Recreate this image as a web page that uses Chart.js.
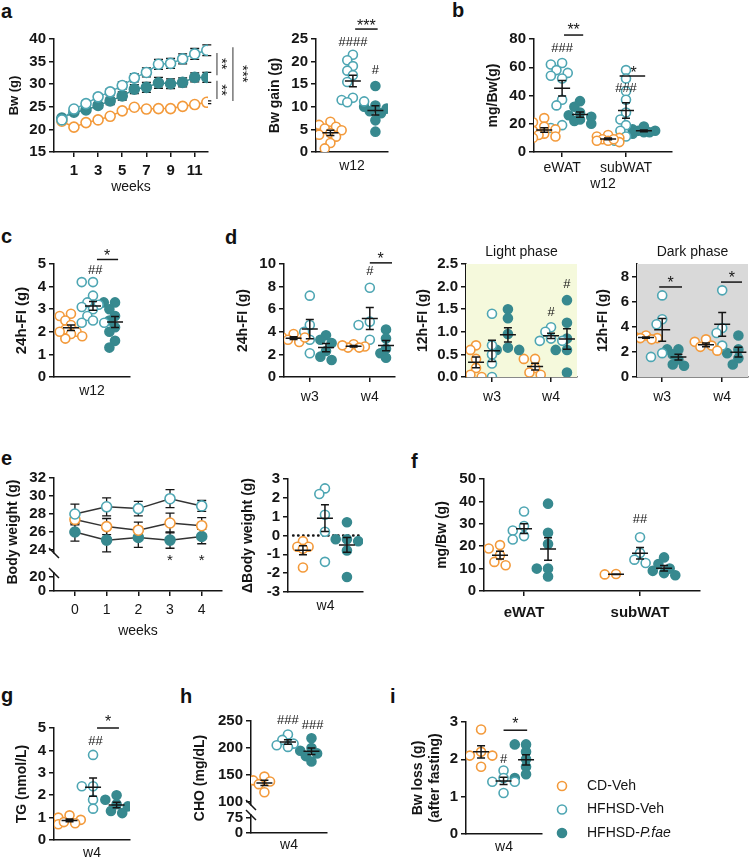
<!DOCTYPE html>
<html>
<head>
<meta charset="utf-8">
<script src="https://cdn.jsdelivr.net/npm/chart.js@4.4.1/dist/chart.umd.min.js"></script>
<style>
  body { margin: 0; width: 750px; height: 860px; position: relative; overflow: hidden; background: #fff;
         font-family: "Liberation Sans", Arial, sans-serif; }
  canvas { position: absolute; }
  .tag { position: absolute; font-weight: bold; font-size: 20px; line-height: 1; color: #111; }
</style>
</head>
<body>
<div class="tag" style="left:1px;top:1px">a</div>
<div class="tag" style="left:452px;top:0px">b</div>
<div class="tag" style="left:1px;top:226px">c</div>
<div class="tag" style="left:225px;top:227px">d</div>
<div class="tag" style="left:1px;top:448px">e</div>
<div class="tag" style="left:411px;top:451px">f</div>
<div class="tag" style="left:1px;top:685px">g</div>
<div class="tag" style="left:180px;top:686px">h</div>
<div class="tag" style="left:390px;top:686px">i</div>
<script>
// ---- data ----
const legendLabels = ["CD-Veh", "HFHSD-Veh", "HFHSD-P.fae"];

// a: body weight over 12 weeks (mean, SEM)
const weeksA = [0, 1, 2, 3, 4, 5, 6, 7, 8, 9, 10, 11, 12];
const bwCD = [21.8, 20.5, 21.5, 22.1, 22.9, 24.1, 24.9, 24.5, 24.6, 24.6, 25.1, 25.5, 26.0];
const bwCDErr = [0.3, 0.3, 0.3, 0.3, 0.3, 0.3, 0.3, 0.3, 0.3, 0.3, 0.3, 0.3, 0.3];
const bwVeh = [22.1, 24.5, 25.7, 27.2, 28.3, 29.7, 31.4, 32.6, 34.4, 34.6, 35.6, 36.7, 37.5];
const bwVehErr = [0.4, 0.5, 0.6, 0.6, 0.7, 0.8, 0.9, 1.0, 1.1, 1.1, 1.1, 1.2, 1.2];
const bwPfae = [22.5, 23.8, 24.3, 25.3, 26.3, 27.4, 28.9, 29.3, 30.3, 30.1, 30.4, 31.5, 31.5];
const bwPfaeErr = [0.4, 0.5, 0.5, 0.6, 0.8, 0.9, 1.0, 1.1, 1.2, 1.1, 1.0, 1.0, 1.1];
const ticksA = [1, 3, 5, 7, 9, 11];

// a: body weight gain at w12
const gainCD = [6.7, 6.0, 5.6, 5.2, 4.8, 4.2, 3.8, 3.4, 2.0, 0.8];
const gainVeh = [21.5, 20.3, 19.0, 18.0, 17.0, 15.5, 12.0, 11.5, 11.0, 11.2];
const gainPfae = [14.6, 10.3, 10.0, 9.6, 9.0, 8.6, 7.0, 4.5];

// b: fat pads at w12
const fatCatsB = ["eWAT", "subWAT"];
const eWatCD = [24, 21, 18, 16, 15, 13, 12, 11, 10];
const eWatVeh = [63, 62, 58, 56, 54, 52, 37, 33, 19, 17];
const eWatPfae = [36, 32, 28, 26, 25, 23, 22, 20];
const subWatCD = [12, 11, 10, 9, 8, 8, 7, 9];
const subWatVeh = [58, 52, 43, 37, 28, 23, 19, 15, 11, 8];
const subWatPfae = [18, 16, 15, 15, 14, 14, 13];

// c: 24h food intake at w12
const fiCD = [2.8, 2.7, 2.5, 2.3, 2.1, 2.0, 1.9, 1.7, 1.8, 2.0];
const fiVeh = [4.2, 4.2, 3.6, 3.3, 3.2, 3.1, 3.0, 2.7, 2.4, 2.4, 2.5];
const fiPfae = [3.3, 3.3, 3.0, 2.7, 2.5, 2.2, 2.0, 1.6, 1.3];

// d: food intake, w3 / w4
const weekCatsD = ["w3", "w4"];
const fi24W3CD = [3.8, 3.5, 3.3, 3.1, 3.5];
const fi24W3Veh = [7.2, 4.6, 4.0, 3.3, 2.1];
const fi24W3Pfae = [3.7, 3.3, 3.0, 2.3, 1.8, 1.5];
const fi24W4CD = [2.9, 2.7, 2.6, 2.6, 2.8];
const fi24W4Veh = [7.9, 4.9, 4.6, 3.3];
const fi24W4Pfae = [4.2, 3.4, 2.5, 2.1, 1.7];
const lightW3CD = [0.7, 0.6, 0.4, 0.2, 0.0, 0.05];
const lightW3Veh = [1.4, 0.7, 0.5, 0.3, 0.0];
const lightW3Pfae = [1.5, 1.3, 0.95, 0.65, 0.6, 0.6];
const lightW4CD = [0.4, 0.4, 0.2, 0.1, 0.05];
const lightW4Veh = [1.1, 1.0, 0.85, 0.8, 0.8];
const lightW4Pfae = [1.7, 1.2, 0.85, 0.6, 0.6, 0.1];
const darkW3CD = [3.3, 3.2, 3.1, 3.0, 3.1];
const darkW3Veh = [6.5, 4.6, 4.2, 1.9, 1.6];
const darkW3Pfae = [2.2, 2.2, 1.8, 1.4, 1.0, 0.9];
const darkW4CD = [3.0, 2.8, 2.5, 2.1, 2.4];
const darkW4Veh = [6.9, 3.9, 3.5, 2.5];
const darkW4Pfae = [3.3, 2.2, 1.9, 1.5, 1.0];

// e: body weight over 4 weeks (mean, SEM) and change at w4
const weeksE = [0, 1, 2, 3, 4];
const bodyCD = [27.4, 26.6, 26.2, 27.0, 26.7];
const bodyCDErr = [0.6, 0.9, 0.9, 1.1, 0.9];
const bodyVeh = [28.0, 28.8, 28.6, 29.7, 28.9];
const bodyVehErr = [1.1, 1.0, 0.8, 1.0, 0.6];
const bodyPfae = [26.0, 25.1, 25.4, 25.1, 25.5];
const bodyPfaeErr = [1.0, 1.3, 1.1, 0.9, 0.8];
const dBodyCD = [-0.3, -0.6, -0.6, -0.7, -1.7];
const dBodyVeh = [2.5, 2.2, 1.1, 0.2, -1.4];
const dBodyPfae = [0.7, -0.2, -0.2, -0.3, -0.8, -2.2];

// f: fat pads at w4
const fatW4eCD = [20.5, 19, 16, 13, 11.5];
const fatW4eVeh = [35.5, 29, 27, 24.5, 23];
const fatW4ePfae = [39, 26, 21, 10, 10, 6.5];
const fatW4sCD = [7.6, 7.4];
const fatW4sVeh = [24, 17, 14, 12.5];
const fatW4sPfae = [15, 12, 10, 9, 8, 7];

// g, h, i: serum and fasting at w4
const tgCD = [1.1, 1.0, 0.9, 0.75, 0.7, 0.8];
const tgVeh = [3.8, 2.4, 2.4, 1.8, 1.4];
const tgPfae = [2.0, 1.8, 1.6, 1.5, 1.3, 1.2];
const choCD = [147, 140, 138, 133, 118];
const choVeh = [225, 215, 208, 205, 202];
const choPfae = [218, 200, 195, 190, 185, 175];
const lossCD = [2.8, 2.2, 2.1, 2.1, 1.8];
const lossVeh = [1.7, 1.5, 1.4, 1.4, 1.1];
const lossPfae = [2.4, 2.4, 2.2, 2.0, 1.8, 1.6, 1.5];

// ---- styles ----
const ORANGE = "#f39a3b", TEAL = "#4ea6b3", DTEAL = "#37898f", INK = "#151515";
const FONT = '"Liberation Sans", Arial, sans-serif';
const R = 4.5;
Chart.defaults.font.family = FONT;
Chart.defaults.color = INK;

function dotStyle(si) {
  const fill = si === 2 ? DTEAL : "#fff";
  const edge = [ORANGE, TEAL, DTEAL][si];
  return { pointRadius: R, pointBorderWidth: 1.6, pointBackgroundColor: fill, pointBorderColor: edge };
}

// spread overlapping dots sideways (compact beeswarm, overlap allowed)
function swarm(vals, pxX, pxY) {
  const order = vals.map((v, i) => i).sort((a, b) => vals[b] - vals[a]);
  const placed = [], off = vals.map(() => 0), step = R * 1.25, need = R * 1.6;
  const slots = [0, -1, 1, -2, 2];
  order.forEach(i => {
    const yp = vals[i] * pxY;
    let best = 0, bestD = -1;
    for (const k of slots) {
      const dx = k * step;
      const d = placed.reduce((m, p) => Math.min(m, Math.hypot(p.x - dx, p.y - yp)), Infinity);
      if (d >= need) { best = dx; break; }
      if (d > bestD) { bestD = d; best = dx; }
    }
    placed.push({ x: best, y: yp });
    off[i] = best / pxX;
  });
  return off;
}

function mkCanvas(left, top, w, h) {
  const cv = document.createElement("canvas");
  cv.width = Math.round(w); cv.height = Math.round(h);
  cv.style.left = Math.round(left) + "px"; cv.style.top = Math.round(top) + "px";
  document.body.appendChild(cv);
  return cv;
}

function yScale(o) {
  const s = {
    type: "linear", position: "left", min: o.min, max: o.max,
    afterBuildTicks: sc => { sc.ticks = o.ticks.map(v => ({ value: v })); },
    ticks: { font: { size: 15, weight: "bold" }, color: INK, padding: 3, autoSkip: false,
             callback: v => o.dec ? v.toFixed(o.dec) : String(v) },
    grid: { display: true, drawOnChartArea: false, drawTicks: true, tickLength: 5, color: INK, lineWidth: 1.5 },
    border: { display: true, color: INK, width: 1.5 },
    title: o.title ? { display: true, text: o.title, font: { size: o.tsize || 14, weight: "bold" }, color: INK, padding: 0 }
                   : { display: false },
    afterFit: sc => { sc.width = o.width; }
  };
  return Object.assign(s, o.extra || {});
}

function xScale(o) {
  return {
    type: "linear", position: "bottom", min: o.min, max: o.max,
    afterBuildTicks: sc => { sc.ticks = (o.ticks || []).map(v => ({ value: v })); },
    ticks: { display: !!o.labels, font: o.tfont || { size: 14 }, color: INK, padding: o.tpad || 3,
             maxRotation: 0, autoSkip: false, callback: (v, i) => o.labels ? o.labels[i] : "" },
    grid: { display: !!o.marks, drawOnChartArea: false, drawTicks: true, tickLength: 5, color: INK, lineWidth: 1.5 },
    border: { display: true, color: INK, width: 1.5 },
    title: o.title ? { display: true, text: o.title, font: { size: 14 }, color: INK, padding: 0 } : { display: false },
    afterFit: sc => { sc.height = o.height; }
  };
}

function baseOpts(pt, pr, scales) {
  return {
    responsive: false, animation: false, devicePixelRatio: 1, events: [],
    layout: { padding: { top: pt, right: pr, left: 0, bottom: 0 }, autoPadding: false },
    plugins: { legend: { display: false }, tooltip: { enabled: false } },
    scales
  };
}

// ---- plugins ----
function bgPlugin(color) {
  return { id: "bg", beforeDatasetsDraw(chart) {
    if (!color) return;
    const { ctx, chartArea: a } = chart;
    ctx.save(); ctx.fillStyle = color; ctx.fillRect(a.left, a.top, a.right - a.left, a.bottom - a.top); ctx.restore();
  } };
}

function semPlugin(groups, axis) {
  return { id: "sem", afterDatasetsDraw(chart) {
    const ctx = chart.ctx, xs = chart.scales.x, ys = chart.scales[axis || "y"];
    ctx.save(); ctx.strokeStyle = INK; ctx.lineWidth = 1.5;
    groups.forEach(g => {
      const n = g.vals.length, m = g.vals.reduce((a, b) => a + b, 0) / n;
      const se = Math.sqrt(g.vals.reduce((a, b) => a + (b - m) ** 2, 0) / (n - 1)) / Math.sqrt(n);
      const x = xs.getPixelForValue(g.x), ym = ys.getPixelForValue(m);
      const y1 = ys.getPixelForValue(m + se), y2 = ys.getPixelForValue(m - se);
      ctx.beginPath();
      ctx.moveTo(x - 8, ym); ctx.lineTo(x + 8, ym);
      ctx.moveTo(x, y1); ctx.lineTo(x, y2);
      ctx.moveTo(x - 4, y1); ctx.lineTo(x + 4, y1);
      ctx.moveTo(x - 4, y2); ctx.lineTo(x + 4, y2);
      ctx.stroke();
    });
    ctx.restore();
  } };
}

function errPlugin() {
  return { id: "errs", beforeDatasetsDraw(chart) {
    const ctx = chart.ctx, xs = chart.scales.x;
    ctx.save(); ctx.strokeStyle = INK; ctx.lineWidth = 1.3;
    chart.data.datasets.forEach((ds, di) => {
      if (!ds.errs) return;
      const ys = chart.scales[chart.getDatasetMeta(di).yAxisID];
      ds.data.forEach((p, i) => {
        const x = xs.getPixelForValue(p.x);
        const y1 = ys.getPixelForValue(p.y + ds.errs[i]), y2 = ys.getPixelForValue(p.y - ds.errs[i]);
        ctx.beginPath();
        ctx.moveTo(x, y1); ctx.lineTo(x, y2);
        ctx.moveTo(x - 4.5, y1); ctx.lineTo(x + 4.5, y1);
        ctx.moveTo(x - 4.5, y2); ctx.lineTo(x + 4.5, y2);
        ctx.stroke();
      });
    });
    ctx.restore();
  } };
}

// significance marks and free labels, placed in data coordinates
function notesPlugin(items) {
  function draw(chart, under) {
    const ctx = chart.ctx, xs = chart.scales.x;
    items.filter(it => !!it.under === under).forEach(it => {
      const ys = chart.scales[it.ax || "y"];
      ctx.save();
      ctx.strokeStyle = it.color || INK; ctx.fillStyle = it.color || INK;
      ctx.lineWidth = it.lw || 1.5;
      if (it.dash) { ctx.setLineDash(it.dash); ctx.lineCap = "round"; }
      if (it.t === "ln") {
        ctx.beginPath();
        ctx.moveTo(xs.getPixelForValue(it.x1), ys.getPixelForValue(it.y1));
        ctx.lineTo(xs.getPixelForValue(it.x2), ys.getPixelForValue(it.y2));
        ctx.stroke();
      } else {
        const size = it.size || 13;
        ctx.font = (it.bold ? "bold " : "") + size + "px " + FONT;
        ctx.textAlign = "center"; ctx.textBaseline = "middle";
        ctx.translate(xs.getPixelForValue(it.x), ys.getPixelForValue(it.y));
        if (it.rot) ctx.rotate(it.rot * Math.PI / 180);
        const star = /^\*+$/.test(it.s);
        ctx.fillText(it.s, 0, star ? size * 0.22 : 0);
      }
      ctx.restore();
    });
  }
  return { id: "notes",
    beforeDatasetsDraw(chart) { draw(chart, true); },
    afterDraw(chart) { draw(chart, false); } };
}

function breakPlugin(topId, lowId) {
  return { id: "brk", afterDraw(chart) {
    const ctx = chart.ctx, x = chart.chartArea.left;
    ctx.save(); ctx.strokeStyle = INK; ctx.lineWidth = 1.5;
    [chart.scales[topId].bottom, chart.scales[lowId].top].forEach(y => {
      ctx.beginPath(); ctx.moveTo(x - 5, y - 5); ctx.lineTo(x + 5, y + 5); ctx.stroke();
    });
    ctx.restore();
  } };
}

function legendPlugin(cvLeft, cvTop) {
  return { id: "lgd", afterDraw(chart) {
    const ctx = chart.ctx;
    ctx.save();
    legendLabels.forEach((name, si) => {
      const st = dotStyle(si), y = 786 + si * 23.5 - cvTop, x = 562 - cvLeft;
      ctx.beginPath(); ctx.arc(x, y, R, 0, Math.PI * 2);
      ctx.fillStyle = st.pointBackgroundColor; ctx.fill();
      ctx.lineWidth = 1.6; ctx.strokeStyle = st.pointBorderColor; ctx.stroke();
      ctx.fillStyle = INK; ctx.textBaseline = "middle"; ctx.textAlign = "left";
      const parts = name.split("P.fae");
      ctx.font = "14px " + FONT;
      ctx.fillText(parts[0], x + 25, y);
      if (parts.length > 1) {
        const w = ctx.measureText(parts[0]).width;
        ctx.font = "italic 14px " + FONT;
        ctx.fillText("P.fae", x + 25 + w, y);
      }
    });
    ctx.restore();
  } };
}

// ---- generic scatter-dot panel with mean +/- SEM ----
function dotPanel(o) {
  const yFont = o.y.tsize || 14;
  const left = o.left !== undefined ? o.left : o.titleX - yFont * 0.6;
  const top = o.yTop - o.padTop, right = o.xRight + (o.padRight || 6);
  const cv = mkCanvas(left, top, right - left, o.bottom - top);
  const pxX = (o.xRight - o.axisX) / (o.x.max - o.x.min);
  const pxY = o.pxY || (o.yBottom - o.yTop) / (o.y.max - o.y.min);
  const datasets = [], groups = [];
  o.cats.forEach((cat, ci) => cat.forEach((vals, si) => {
    const gx = ci + (si - 1) * o.spread;
    const jit = swarm(vals, pxX, pxY);
    datasets.push(Object.assign({ data: vals.map((v, i) => ({ x: gx + jit[i], y: v })), showLine: false }, dotStyle(si)));
    groups.push({ x: gx, vals });
  }));
  const W = o.axisX - Math.round(left);
  const scales = {
    x: xScale(Object.assign({ height: o.bottom - o.yBottom }, o.x)),
    y: yScale(Object.assign({ width: W }, o.y))
  };
  if (o.extraScales) Object.assign(scales, o.extraScales(W));
  return new Chart(cv, {
    type: "scatter",
    data: { datasets },
    options: baseOpts(o.padTop, right - o.xRight, scales),
    plugins: [bgPlugin(o.bg), semPlugin(groups), notesPlugin(o.notes || [])].concat(o.more ? o.more(left, top) : [])
  });
}

function lineSet(xs, ys, errs, si, lineColor) {
  const st = dotStyle(si);
  return Object.assign({}, st, { data: xs.map((x, i) => ({ x, y: ys[i] })), errs, showLine: true,
    borderColor: lineColor || st.pointBorderColor, borderWidth: 1.5, pointRadius: 5 });
}

// ---- panel a: body weight curve ----
(function () {
  const left = 15 - 13 * 0.6, top = 0, right = 252, bottom = 196;
  const cv = mkCanvas(left, top, right - left, bottom - top);
  const scales = {
    x: xScale({ min: -0.65, max: 12.1, ticks: ticksA, labels: ticksA.map(String), marks: true,
                tfont: { size: 15, weight: "bold" }, tpad: 5, title: "weeks", height: bottom - 152 }),
    y: yScale({ min: 15, max: 40, ticks: [15, 20, 25, 30, 35, 40], title: "Bw (g)", tsize: 13, width: 54 - Math.round(left) })
  };
  const notes = [
    { t: "ln", x1: 12.84, x2: 12.84, y1: 36.9, y2: 32.0, color: "#777" },
    { t: "ln", x1: 12.84, x2: 12.84, y1: 30.75, y2: 26.7, color: "#777" },
    { t: "ln", x1: 14.16, x2: 14.16, y1: 38.2, y2: 26.3, color: "#777" },
    { t: "txt", s: "**", x: 13.45, y: 34.5, rot: 90, size: 15 },
    { t: "txt", s: "**", x: 13.45, y: 28.7, rot: 90, size: 15 },
    { t: "txt", s: "***", x: 15.2, y: 32.3, rot: 90, size: 15 }
  ];
  new Chart(cv, {
    type: "scatter",
    data: { datasets: [
      lineSet(weeksA, bwVeh, bwVehErr, 1),
      lineSet(weeksA, bwPfae, bwPfaeErr, 2),
      lineSet(weeksA, bwCD, bwCDErr, 0)
    ] },
    options: baseOpts(39, right - 208, scales),
    plugins: [errPlugin(), notesPlugin(notes)]
  });
})();

// ---- panel a: Bw gain ----
dotPanel({
  titleX: 275, axisX: 316, yTop: 39, yBottom: 152, xRight: 388, padTop: 39, bottom: 175,
  x: { min: -1.64, max: 1.56, title: "w12" }, spread: 1,
  y: { min: 0, max: 25, ticks: [0, 5, 10, 15, 20, 25], title: "Bw gain (g)" },
  cats: [[gainCD, gainVeh, gainPfae]],
  notes: [
    { t: "txt", s: "####", x: 0, y: 24.2 },
    { t: "txt", s: "#", x: 1, y: 18.1 },
    { t: "ln", x1: 0.1, x2: 1.1, y1: 27.2, y2: 27.2 },
    { t: "txt", s: "***", x: 0.6, y: 28.6, size: 16 }
  ]
});

// ---- panel b ----
dotPanel({
  titleX: 493, axisX: 534, yTop: 39, yBottom: 152, xRight: 672, padTop: 39, bottom: 193,
  x: { min: -0.44, max: 1.72, ticks: [0, 1], labels: fatCatsB, marks: true, title: "w12" }, spread: 0.28,
  y: { min: 0, max: 80, ticks: [0, 20, 40, 60, 80], title: "mg/Bw(g)" },
  cats: [[eWatCD, eWatVeh, eWatPfae], [subWatCD, subWatVeh, subWatPfae]],
  notes: [
    { t: "txt", s: "###", x: 0, y: 73.6 },
    { t: "ln", x1: 0.03, x2: 0.33, y1: 82.8, y2: 82.8 },
    { t: "txt", s: "**", x: 0.18, y: 88.5, size: 16 },
    { t: "txt", s: "###", x: 1, y: 45.3 },
    { t: "ln", x1: 0.9, x2: 1.3, y1: 53.8, y2: 53.8 },
    { t: "txt", s: "*", x: 1.12, y: 58, size: 16 }
  ]
});

// ---- panel c ----
dotPanel({
  titleX: 22, axisX: 54, yTop: 264, yBottom: 377, xRight: 130, padTop: 30, bottom: 400,
  x: { min: -1.77, max: 1.68, title: "w12" }, spread: 1,
  y: { min: 0, max: 5, ticks: [0, 1, 2, 3, 4, 5], title: "24h-FI (g)", tsize: 15 },
  cats: [[fiCD, fiVeh, fiPfae]],
  notes: [
    { t: "txt", s: "##", x: 0.1, y: 4.73 },
    { t: "ln", x1: 0.18, x2: 1.14, y1: 5.2, y2: 5.2 },
    { t: "txt", s: "*", x: 0.64, y: 5.5, size: 16 }
  ]
});

// ---- panel d: 24h, light, dark ----
dotPanel({
  titleX: 243, axisX: 284, yTop: 264, yBottom: 377, xRight: 395, padTop: 30, bottom: 410,
  x: { min: -0.43, max: 1.42, ticks: [0, 1], labels: weekCatsD, marks: true, tpad: 7 }, spread: 0.27,
  y: { min: 0, max: 10, ticks: [0, 2, 4, 6, 8, 10], title: "24h-FI (g)" },
  cats: [[fi24W3CD, fi24W3Veh, fi24W3Pfae], [fi24W4CD, fi24W4Veh, fi24W4Pfae]],
  notes: [
    { t: "txt", s: "#", x: 1, y: 9.3 },
    { t: "ln", x1: 1.0, x2: 1.37, y1: 10.1, y2: 10.1 },
    { t: "txt", s: "*", x: 1.18, y: 10.7, size: 16 }
  ]
});

dotPanel({
  titleX: 423, axisX: 466, yTop: 264, yBottom: 377, xRight: 577, padTop: 30, bottom: 410, bg: "#f5f9dc",
  x: { min: -0.44, max: 1.44, ticks: [0, 1], labels: weekCatsD, marks: true, tpad: 7 }, spread: 0.27,
  y: { min: 0, max: 2.5, ticks: [0, 0.5, 1, 1.5, 2, 2.5], dec: 1, title: "12h-FI (g)" },
  cats: [[lightW3CD, lightW3Veh, lightW3Pfae], [lightW4CD, lightW4Veh, lightW4Pfae]],
  notes: [
    { t: "txt", s: "Light phase", x: 0.5, y: 2.765, size: 14 },
    { t: "txt", s: "#", x: 1, y: 1.42 },
    { t: "txt", s: "#", x: 1.27, y: 2.05 }
  ]
});

dotPanel({
  titleX: 603, axisX: 637, yTop: 264, yBottom: 377, xRight: 748, padRight: 2, padTop: 30, bottom: 410, bg: "#d9d9d9",
  x: { min: -0.42, max: 1.43, ticks: [0, 1], labels: weekCatsD, marks: true, tpad: 7 }, spread: 0.27,
  y: { min: 0, max: 9, ticks: [0, 2, 4, 6, 8], title: "12h-FI (g)" },
  cats: [[darkW3CD, darkW3Veh, darkW3Pfae], [darkW4CD, darkW4Veh, darkW4Pfae]],
  notes: [
    { t: "txt", s: "Dark phase", x: 0.505, y: 9.96, size: 14 },
    { t: "ln", x1: -0.05, x2: 0.33, y1: 7.17, y2: 7.17 },
    { t: "txt", s: "*", x: 0.14, y: 7.72, size: 16 },
    { t: "ln", x1: 0.98, x2: 1.33, y1: 7.56, y2: 7.56 },
    { t: "txt", s: "*", x: 1.16, y: 8.12, size: 16 }
  ]
});

// ---- panel e: body weight, broken axis ----
(function () {
  const left = 0, top = 448, right = 240, bottom = 640;
  const cv = mkCanvas(left, top, right - left, bottom - top);
  const W = 54;
  const scales = {
    x: xScale({ min: -0.66, max: 4.64, ticks: weeksE, labels: weeksE.map(String), marks: true, tpad: 6,
                title: "weeks", height: bottom - 591 }),
    y: yScale({ min: 23.67, max: 32, ticks: [24, 26, 28, 30, 32], width: W,
                extra: { stack: "e", stackWeight: 75, weight: 3 } }),
    yGap: { type: "linear", position: "left", min: 0, max: 1, stack: "e", stackWeight: 20, weight: 2,
            ticks: { display: false }, grid: { display: false }, border: { display: false },
            afterFit: sc => { sc.width = W; } },
    yLow: yScale({ min: 0, max: 25.7, ticks: [0, 20], width: W,
                   extra: { stack: "e", stackWeight: 18, weight: 1 } })
  };
  const notes = [
    { t: "txt", s: "Body weight (g)", x: -1.95, y: 26.0, rot: -90, size: 14, bold: true },
    { t: "txt", s: "*", x: 3, y: 23.2, size: 15 },
    { t: "txt", s: "*", x: 4, y: 23.2, size: 15 }
  ];
  new Chart(cv, {
    type: "scatter",
    data: { datasets: [
      lineSet(weeksE, bodyVeh, bodyVehErr, 1, "#333"),
      lineSet(weeksE, bodyCD, bodyCDErr, 0, "#333"),
      lineSet(weeksE, bodyPfae, bodyPfaeErr, 2, "#333")
    ] },
    options: baseOpts(478 - top, right - 222, scales),
    plugins: [errPlugin(), notesPlugin(notes), breakPlugin("y", "yLow")]
  });
})();

dotPanel({
  titleX: 248, axisX: 288, yTop: 479, yBottom: 592, xRight: 363, padTop: 30, bottom: 615,
  x: { min: -1.68, max: 1.73, title: "w4" }, spread: 1,
  y: { min: -3, max: 3, ticks: [-3, -2, -1, 0, 1, 2, 3], title: "\u0394Body weight (g)" },
  cats: [[dBodyCD, dBodyVeh, dBodyPfae]],
  notes: [{ t: "ln", x1: -1.45, x2: 1.68, y1: 0, y2: 0, dash: [0.5, 4.5], lw: 2.4, under: true }]
});

// ---- panel f ----
dotPanel({
  titleX: 442, axisX: 484, yTop: 479, yBottom: 591, xRight: 700, padTop: 30, bottom: 625,
  x: { min: -0.345, max: 1.517, ticks: [0, 1], labels: fatCatsB, marks: true, tpad: 8,
       tfont: { size: 15, weight: "bold" } }, spread: 0.207,
  y: { min: 0, max: 50, ticks: [0, 10, 20, 30, 40, 50], title: "mg/Bw (g)" },
  cats: [[fatW4eCD, fatW4eVeh, fatW4ePfae], [fatW4sCD, fatW4sVeh, fatW4sPfae]],
  notes: [{ t: "txt", s: "##", x: 1, y: 32 }]
});

// ---- panel g ----
dotPanel({
  titleX: 22, axisX: 54, yTop: 728, yBottom: 840, xRight: 130, padTop: 35, bottom: 862,
  x: { min: -1.66, max: 1.57, title: "w4" }, spread: 1,
  y: { min: 0, max: 5, ticks: [0, 1, 2, 3, 4, 5], title: "TG (nmol/L)" },
  cats: [[tgCD, tgVeh, tgPfae]],
  notes: [
    { t: "txt", s: "##", x: 0.1, y: 4.42 },
    { t: "ln", x1: 0.17, x2: 1.1, y1: 5.0, y2: 5.0 },
    { t: "txt", s: "*", x: 0.64, y: 5.4, size: 16 }
  ]
});

// ---- panel h: broken axis ----
dotPanel({
  left: 190, axisX: 251, yTop: 721, yBottom: 833, xRight: 327, padTop: 30, bottom: 854, pxY: 0.54,
  x: { min: -1.57, max: 1.66, title: "w4" }, spread: 1,
  y: { min: 94.4, max: 250, ticks: [100, 150, 200, 250], extra: { stack: "h", stackWeight: 84, weight: 3 } },
  extraScales: W => ({
    yGap: { type: "linear", position: "left", min: 0, max: 1, stack: "h", stackWeight: 10, weight: 2,
            ticks: { display: false }, grid: { display: false }, border: { display: false },
            afterFit: sc => { sc.width = W; } },
    yLow: yScale({ min: 0, max: 90, ticks: [0, 75], width: W, extra: { stack: "h", stackWeight: 18, weight: 1 } })
  }),
  cats: [[choCD, choVeh, choPfae]],
  notes: [
    { t: "txt", s: "CHO (mg/dL)", x: -3.74, y: 144.4, rot: -90, size: 14, bold: true },
    { t: "txt", s: "###", x: 0, y: 251.8 },
    { t: "txt", s: "###", x: 1.05, y: 242.6 }
  ],
  more: () => [breakPlugin("y", "yLow")]
});

// ---- panel i + legend ----
dotPanel({
  titleX: 418, axisX: 466, yTop: 722, yBottom: 834, xRight: 542, padRight: 208, padTop: 30, bottom: 856,
  x: { min: -1.67, max: 1.71, title: "w4" }, spread: 1,
  y: { min: 0, max: 3, ticks: [0, 1, 2, 3], title: ["Bw loss (g)", "(after fasting)"] },
  cats: [[lossCD, lossVeh, lossPfae]],
  notes: [
    { t: "txt", s: "#", x: 0, y: 2.0 },
    { t: "ln", x1: 0, x2: 1.05, y1: 2.78, y2: 2.78 },
    { t: "txt", s: "*", x: 0.52, y: 3.02, size: 16 }
  ],
  more: (l, t) => [legendPlugin(Math.round(l), Math.round(t))]
});
</script>
</body>
</html>
